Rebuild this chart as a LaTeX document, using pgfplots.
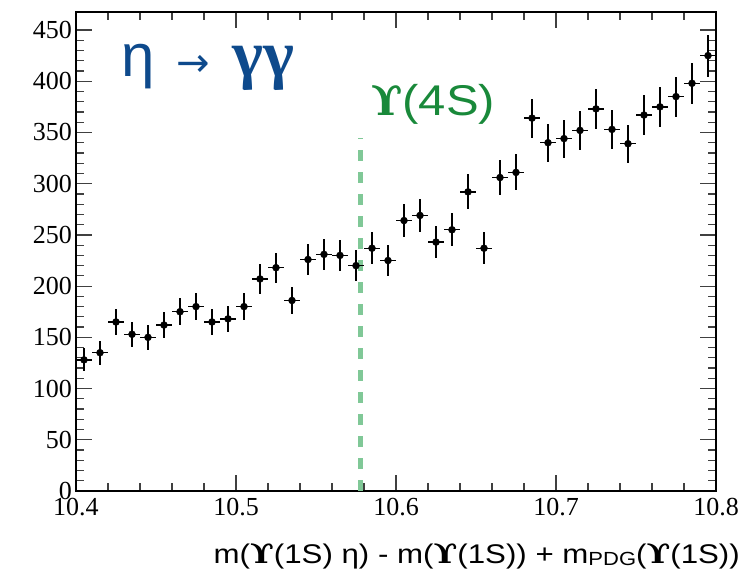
\documentclass[border=0pt]{standalone}
\usepackage{fontspec}
\usepackage{graphicx}
\usepackage{pgfplots}
\pgfplotsset{compat=1.18}
\usepackage{pgfplotstable}
\setmainfont{Liberation Serif}
\newfontfamily\hv{Liberation Sans}
\newfontfamily\dvs{DejaVu Serif}
\newfontfamily\dv{DejaVu Sans}
\definecolor{titleblue}{RGB}{14,74,140}
\definecolor{upsgreen}{RGB}{25,137,58}
\definecolor{dashgreen}{RGB}{128,200,151}
\newcommand{\Ups}{{\dvs\bfseries ϒ}}

\pgfplotstableread{
x y ex ey
10.405 128 0.005 11.3
10.415 135 0.005 11.6
10.425 165 0.005 12.8
10.435 153 0.005 12.4
10.445 150 0.005 12.2
10.455 162 0.005 12.7
10.465 175 0.005 13.2
10.475 180 0.005 13.4
10.485 165 0.005 12.8
10.495 168 0.005 13.0
10.505 180 0.005 13.4
10.515 207 0.005 14.4
10.525 218 0.005 14.8
10.535 186 0.005 13.6
10.545 226 0.005 15.0
10.555 231 0.005 15.2
10.565 230 0.005 15.2
10.575 220 0.005 14.8
10.585 237 0.005 15.4
10.595 225 0.005 15.0
10.605 264 0.005 16.2
10.615 269 0.005 16.4
10.625 243 0.005 15.6
10.635 255 0.005 16.0
10.645 292 0.005 17.1
10.655 237 0.005 15.4
10.665 306 0.005 17.5
10.675 311 0.005 17.6
10.685 364 0.005 19.1
10.695 340 0.005 18.4
10.705 344 0.005 18.5
10.715 352 0.005 18.8
10.725 373 0.005 19.3
10.735 353 0.005 18.8
10.745 339 0.005 18.4
10.755 367 0.005 19.2
10.765 375 0.005 19.4
10.775 385 0.005 19.6
10.785 398 0.005 19.9
10.795 425 0.005 20.6
}\data

\begin{document}
\begin{tikzpicture}
\path[use as bounding box] (-76pt,-79pt) rectangle (671pt,491pt);
\begin{axis}[at={(0pt,0pt)}, anchor=south west, scale only axis,
  width=640pt, height=479pt,
  xmin=10.4, xmax=10.8, ymin=0, ymax=467.6,
  xtick={10.4,10.5,10.6,10.7,10.8},
  xticklabels={10.4,10.5,10.6,10.7,10.8},
  minor x tick num=4,
  ytick={0,50,...,450}, minor y tick num=4,
  tick align=inside,
  major tick length=16pt, minor tick length=8pt,
  axis line style={line width=1.4pt},
  every tick/.style={black!75, line width=1.2pt},
  ticklabel style={font=\fontsize{26}{26}\selectfont},
  xticklabel style={inner sep=0pt, anchor=north, yshift=-7pt, text height=17pt, text depth=0pt},
  yticklabel style={inner sep=0pt, anchor=east, xshift=-4pt, text height=17pt, text depth=0pt},
  /pgf/number format/assume math mode=true,
  xlabel={\scalebox{1.157}[1]{\hv m(\Ups(1S) η) - m(\Ups(1S)) + m\raisebox{-2pt}{\fontsize{19}{19}\selectfont PDG}(\Ups(1S))}},
  xlabel style={font=\fontsize{27}{27}\selectfont, at={(axis description cs:1,0)}, anchor=base east, inner sep=0pt, xshift=24pt, yshift=-72pt},
]
\addplot[dashgreen, line width=5pt, dash pattern=on 11pt off 11pt] coordinates {(10.5775,0) (10.5775,345)};
\addplot[black, only marks, mark=*, mark size=3.5pt,
  error bars/.cd, x dir=both, x explicit, y dir=both, y explicit,
  error bar style={line width=1.3pt, black}, error mark=none]
  table[x=x, y=y, x error=ex, y error=ey] {\data};
\end{axis}
\node[anchor=base west, inner sep=0pt, text=titleblue] at (45pt,414pt)
  {\fontsize{60}{60}\selectfont\hv η};
\node[anchor=base west, inner sep=0pt, text=titleblue] at (100pt,414pt)
  {\fontsize{40}{40}\selectfont\dv →};
\node[anchor=base west, inner sep=0pt, text=titleblue] at (156pt,414pt)
  {\fontsize{66}{66}\selectfont\rmfamily\bfseries γγ};
\node[anchor=base west, inner sep=0pt, text=upsgreen] at (295pt,375pt)
  {\fontsize{41}{41}\selectfont\Ups\hv\scalebox{1.14}[1]{\fontsize{43}{43}\selectfont(4S)}};
\end{tikzpicture}
\end{document}
